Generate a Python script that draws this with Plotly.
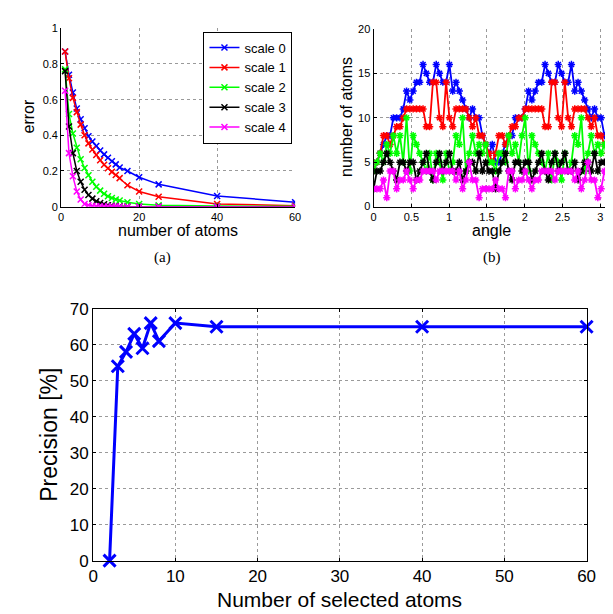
import plotly.graph_objects as go

W, H = 613, 614

# ---------- (a) error vs number of atoms ----------
atoms_a = [1, 2, 3, 4, 5, 6, 7, 8, 9, 10, 11, 12, 13, 14, 15, 17, 20, 25, 40, 60]
err_s0 = [0.87, 0.74, 0.64, 0.55, 0.49, 0.44, 0.395, 0.365, 0.34, 0.315, 0.293, 0.274, 0.255, 0.237, 0.22, 0.2, 0.165, 0.125, 0.06, 0.025]
err_s1 = [0.87, 0.72, 0.61, 0.53, 0.46, 0.40, 0.355, 0.32, 0.29, 0.26, 0.235, 0.215, 0.195, 0.178, 0.16, 0.12, 0.085, 0.055, 0.015, 0.005]
err_s2 = [0.77, 0.52, 0.41, 0.33, 0.266, 0.217, 0.176, 0.14, 0.112, 0.09, 0.072, 0.058, 0.049, 0.04, 0.034, 0.025, 0.015, 0.008, 0.003, 0.002]
err_s3 = [0.76, 0.45, 0.30, 0.20, 0.14, 0.095, 0.065, 0.045, 0.03, 0.02, 0.013, 0.008, 0.005, 0.003, 0.002, 0.001, 0, 0, 0, 0]
err_s4 = [0.65, 0.30, 0.17, 0.085, 0.04, 0.015, 0.008, 0.004, 0.002, 0.001, 0, 0, 0, 0, 0, 0, 0, 0, 0, 0]

# ---------- (b) number of atoms vs angle ----------
angle = [0.0000, 0.0436, 0.0873, 0.1309, 0.1745, 0.2182, 0.2618, 0.3054, 0.3491, 0.3927,
         0.4363, 0.4800, 0.5236, 0.5672, 0.6109, 0.6545, 0.6981, 0.7418, 0.7854, 0.8290,
         0.8727, 0.9163, 0.9599, 1.0036, 1.0472, 1.0908, 1.1345, 1.1781, 1.2217, 1.2654,
         1.3090, 1.3526, 1.3963, 1.4399, 1.4835, 1.5272, 1.5708, 1.6144, 1.6581, 1.7017,
         1.7453, 1.7890, 1.8326, 1.8762, 1.9199, 1.9635, 2.0071, 2.0508, 2.0944, 2.1380,
         2.1817, 2.2253, 2.2689, 2.3126, 2.3562, 2.3998, 2.4435, 2.4871, 2.5307, 2.5744,
         2.6180, 2.6616, 2.7053, 2.7489, 2.7925, 2.8362, 2.8798, 2.9234, 2.9671, 3.0107,
         3.0543, 3.0980, 3.1416]
n_s0 = [4, 5, 6, 7, 8, 8, 10, 10, 10, 11, 13, 12, 13, 14, 14, 16, 15, 14, 14, 16, 15, 14, 14, 16, 13, 14, 13, 12, 11, 10, 11, 10, 10, 8, 7, 6,
        7, 5, 5, 6, 7, 8, 8, 10, 10, 10, 11, 13, 12, 13, 14, 14, 16, 15, 14, 14, 16, 15, 14, 14, 16, 13, 14, 13, 12, 11, 10, 11, 10, 10, 8, 7, 7]
n_s1 = [4, 5, 6, 8, 8, 7, 8, 9, 9, 10, 11, 11, 11, 11, 11, 11, 9, 9, 14, 14, 10, 9, 14, 10, 9, 11, 11, 11, 11, 10, 9, 10, 8, 8, 7, 6,
        5, 6, 8, 8, 7, 8, 9, 9, 10, 10, 11, 11, 11, 11, 11, 11, 9, 9, 14, 14, 10, 9, 14, 10, 9, 11, 11, 11, 11, 10, 9, 10, 8, 8, 7, 6, 7]
n_s2 = [4, 5, 6, 5, 7, 6, 8, 6, 8, 5, 10, 4, 8, 7, 6, 5, 4, 6, 3, 6, 5, 3, 6, 4, 5, 8, 7, 10, 4, 6, 8, 6, 7, 6, 7, 5,
        5, 4, 6, 6, 5, 8, 6, 7, 5, 8, 10, 4, 8, 7, 6, 5, 4, 6, 3, 6, 5, 3, 6, 4, 5, 8, 7, 10, 4, 6, 8, 6, 7, 6, 7, 5, 6]
n_s3 = [2, 4, 4, 5, 6, 5, 4, 3, 5, 5, 4, 5, 5, 3, 4, 5, 6, 4, 3, 5, 6, 4, 5, 6, 4, 4, 5, 3, 4, 5, 5, 4, 6, 4, 5, 4,
        4, 2, 4, 5, 6, 4, 3, 5, 5, 4, 5, 5, 3, 4, 5, 6, 4, 3, 5, 6, 4, 5, 6, 4, 4, 5, 3, 4, 5, 5, 4, 6, 4, 5, 5, 5, 6]
n_s4 = [2, 2, 2, 3, 1, 4, 4, 2, 3, 3, 4, 3, 2, 3, 3, 4, 4, 4, 4, 3, 4, 4, 4, 4, 4, 3, 4, 2, 3, 5, 3, 3, 1, 2, 2, 2,
        2, 3, 2, 2, 1, 4, 4, 2, 3, 3, 4, 3, 2, 3, 3, 4, 4, 4, 4, 3, 4, 4, 4, 4, 4, 3, 4, 2, 3, 5, 3, 3, 1, 2, 4, 3, 2]

# ---------- (c) precision vs number of selected atoms ----------
selected = [2, 3, 4, 5, 6, 7, 8, 10, 15, 40, 60]
precision = [0, 54, 58, 63, 59, 66, 61, 66, 65, 65, 65]

series_names = ["scale 0", "scale 1", "scale 2", "scale 3", "scale 4"]
colors = ["#0000ff", "#ff0000", "#00ff00", "#000000", "#ff00ff"]

FONT = "Liberation Sans, Arial, sans-serif"
SERIF = "Liberation Serif, Times New Roman, serif"
fig = go.Figure()

for name, col, ys in zip(series_names, colors, [err_s0, err_s1, err_s2, err_s3, err_s4]):
    fig.add_trace(go.Scatter(
        x=atoms_a, y=ys, name=name, mode="lines+markers",
        line=dict(color=col, width=1.5),
        marker=dict(symbol="x-thin-open", size=6, color=col, line=dict(color=col, width=1.5)),
        xaxis="x", yaxis="y", showlegend=True))

for name, col, ys in zip(series_names, colors, [n_s0, n_s1, n_s2, n_s3, n_s4]):
    fig.add_trace(go.Scatter(
        x=angle, y=ys, name=name, mode="lines+markers",
        line=dict(color=col, width=1.8),
        marker=dict(symbol="asterisk-open", size=6, color=col, line=dict(color=col, width=1.5)),
        xaxis="x2", yaxis="y2", showlegend=False, cliponaxis=True))

fig.add_trace(go.Scatter(
    x=selected, y=precision, mode="lines+markers", name="precision",
    line=dict(color="#0000ff", width=3),
    marker=dict(symbol="x-thin-open", size=12, color="#0000ff", line=dict(color="#0000ff", width=3)),
    xaxis="x3", yaxis="y3", showlegend=False, cliponaxis=False))

def px_x(v):
    return v / W

def px_y(v):
    return 1 - v / H

grid = dict(showgrid=True, gridcolor="#9a9a9a", griddash="dot", gridwidth=1,
            zeroline=False, showline=True, linecolor="black", linewidth=1,
            ticks="inside", tickcolor="black", ticklen=3)

small_tick = dict(family=FONT, size=11, color="black")
big_tick = dict(family=FONT, size=17, color="black")

fig.update_layout(
    width=W, height=H, autosize=False,
    margin=dict(l=0, r=0, t=0, b=0),
    paper_bgcolor="white", plot_bgcolor="white",
    xaxis=dict(domain=[px_x(49.3), px_x(288.7)], range=[0, 60], dtick=20, anchor="y",
               tickfont=small_tick, mirror=False, **grid),
    yaxis=dict(domain=[px_y(195.7), px_y(11.7)], range=[0, 1], dtick=0.2, anchor="x",
               tickfont=small_tick, mirror=False, **grid),
    xaxis2=dict(domain=[px_x(369), px_x(612)], range=[0, 3.1416], dtick=0.5, anchor="y2",
                tickfont=small_tick, mirror=False, **grid),
    yaxis2=dict(domain=[px_y(195.7), px_y(12.3)], range=[0, 20], dtick=5, anchor="x2",
                tickfont=small_tick, mirror=False, **grid),
    xaxis3=dict(domain=[px_x(82), px_x(587)], range=[0, 60], dtick=10, anchor="y3",
                tickfont=big_tick, mirror="allticks", **grid),
    yaxis3=dict(domain=[px_y(561), px_y(301)], range=[0, 70], dtick=10, anchor="x3",
                tickfont=big_tick, mirror="allticks", **grid),
    legend=dict(x=px_x(286), y=px_y(15), xanchor="right", yanchor="top",
                bordercolor="black", borderwidth=1, bgcolor="white",
                font=dict(family=FONT, size=13, color="black"),
                tracegroupgap=0, itemwidth=30),
)

ann = []
def label(text, x, y, size, angle=0, family=FONT, yanchor="middle"):
    ann.append(dict(text=text, x=px_x(x), y=px_y(y), xref="paper", yref="paper",
                    showarrow=False, textangle=angle, xanchor="center", yanchor=yanchor,
                    font=dict(family=family, size=size, color="black")))

label("error", 16, 103, 16, -90)
label("number of atoms", 169, 220, 16)
label("number of atoms", 342, 103, 16, -90)
label("angle", 490, 220, 16)
label("(a)", 153, 248, 15, family=SERIF)
label("(b)", 490, 248, 15, family=SERIF)
label("Precision [%]", 36, 431, 23, -90)
label("Number of selected atoms", 334.5, 615, 21, yanchor="bottom")
fig.update_layout(annotations=ann)

fig.write_html("out.html")
